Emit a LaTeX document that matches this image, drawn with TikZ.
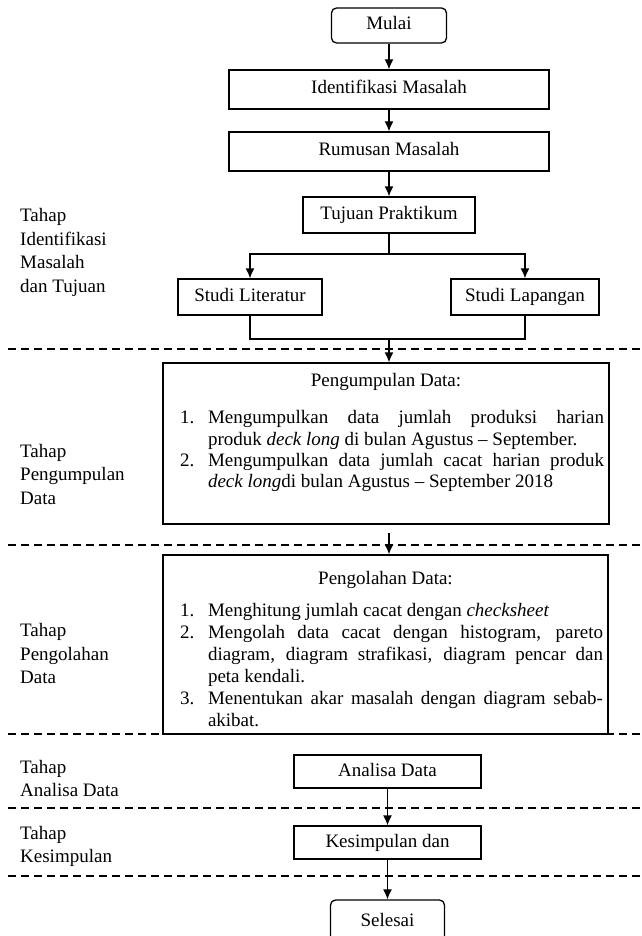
\documentclass[tikz,border=0pt]{standalone}
\usepackage{fontspec}
\setmainfont{Liberation Serif}
\usepackage{enumitem}
\usetikzlibrary{arrows.meta}
\setlist[enumerate]{leftmargin=40pt, labelindent=12pt, labelwidth=20pt, labelsep=8pt, align=left, topsep=0pt, partopsep=0pt, itemsep=0pt, parsep=0pt}
\tikzset{
	kotak/.style={draw, line width=1.3pt, inner sep=0pt, text height=13pt, text depth=4pt},
	bulat/.style={kotak, rounded corners=5pt},
	isi/.style={draw, line width=1.3pt, inner ysep=0pt, inner xsep=5pt},
	panah/.style={line width=1.3pt, -{Latex[length=10pt,width=9pt]}},
	garis/.style={line width=1.3pt},
	batas/.style={line width=1.3pt, dash pattern=on 8pt off 5pt},
	tahap/.style={anchor=west, align=left, inner sep=0pt, font=\fontsize{19}{23.5}\selectfont}
}

\begin{document}
\begin{tikzpicture}[x=1pt, y=-1pt, font=\fontsize{19}{22}\selectfont]
		%%%%% START %%%%%
		\useasboundingbox (0, 0) rectangle (641, 936);
		
		\draw[batas] (8, 349) -- (641, 349);
		\draw[batas] (8, 545) -- (641, 545);
		\draw[batas] (8, 734) -- (641, 734);
		\draw[batas] (8, 808) -- (641, 808);
		\draw[batas] (8, 876) -- (641, 876);
		
		\node[bulat, minimum width=115pt, minimum height=35pt] (mulai) at (389, 25.5) {Mulai};
		\node[kotak, minimum width=320pt, minimum height=39pt] (identifikasi) at (389, 89.5) {Identifikasi Masalah};
		\node[kotak, minimum width=320pt, minimum height=39pt] (rumusan) at (389, 151.5) {Rumusan Masalah};
		\node[kotak, minimum width=172pt, minimum height=36pt] (tujuan) at (389, 215) {Tujuan Praktikum};
		\node[kotak, minimum width=144pt, minimum height=36pt] (literatur) at (250, 297) {Studi Literatur};
		\node[kotak, minimum width=148pt, minimum height=36pt] (lapangan) at (525, 297) {Studi Lapangan};
		
		\coordinate (cabang) at (389, 254);
		\coordinate (gabung) at (389, 339);
		
		\node[isi] (kumpul) at (386, 443.5) {\parbox[c][161pt][t]{436pt}{%
			\fontsize{19}{21.3}\selectfont
			\vspace*{10.5pt}{\centering Pengumpulan Data:\par}\vspace{16pt}
			\begin{enumerate}
				\item Mengumpulkan data jumlah produksi harian\linebreak produk \textit{deck long} di bulan Agustus -- September.
				\item Mengumpulkan data jumlah cacat harian produk\linebreak \textit{deck long}di bulan Agustus -- September 2018
			\end{enumerate}}};
		
		\node[isi] (olah) at (385.5, 644.5) {\parbox[c][179pt][t]{435pt}{%
			\vspace*{16.5pt}{\centering Pengolahan Data:\par}\vspace{10pt}
			\begin{enumerate}
				\item Menghitung jumlah cacat dengan \textit{checksheet}
				\item Mengolah data cacat dengan histogram, pareto\linebreak diagram, diagram strafikasi, diagram pencar dan\linebreak peta kendali.
				\item Menentukan akar masalah dengan diagram sebab-\linebreak akibat.
			\end{enumerate}}};
		
		\node[kotak, minimum width=187pt, minimum height=33pt] (analisa) at (387.5, 771.5) {Analisa Data};
		\node[kotak, minimum width=187pt, minimum height=33pt] (kesimpulan) at (387.5, 842.5) {Kesimpulan dan};
		\node[bulat, minimum width=114pt, minimum height=44pt] (selesai) at (387.5, 922) {Selesai};
		
		\node[tahap] (t1) at (20, 252.5) {Tahap\\Identifikasi\\Masalah\\dan Tujuan};
		\node[tahap] (t2) at (20, 474) {Tahap\\Pengumpulan\\Data};
		\node[tahap] (t3) at (20, 653.5) {Tahap\\Pengolahan\\Data};
		\node[tahap] (t4) at (20, 778.5) {Tahap\\Analisa Data};
		\node[tahap] (t5) at (20, 846.5) {Tahap\\Kesimpulan};
		
		\draw[panah] (mulai) -- (identifikasi);
		\draw[panah] (identifikasi) -- (rumusan);
		\draw[panah] (rumusan) -- (tujuan);
		\draw[garis] (tujuan) -- (cabang);
		\draw[panah] (cabang) -| (literatur);
		\draw[panah] (cabang) -| (lapangan);
		\draw[garis] (literatur) |- (gabung);
		\draw[garis] (lapangan) |- (gabung);
		\draw[panah] (gabung) -- (kumpul.north -| gabung);
		\draw[panah, shorten <=8pt] (kumpul.south -| gabung) -- (olah.north -| gabung);
		\draw[panah] (analisa) -- (kesimpulan);
		\draw[panah] (kesimpulan) -- (selesai);
		
		%%%%% END %%%%%
\end{tikzpicture}
\end{document}
